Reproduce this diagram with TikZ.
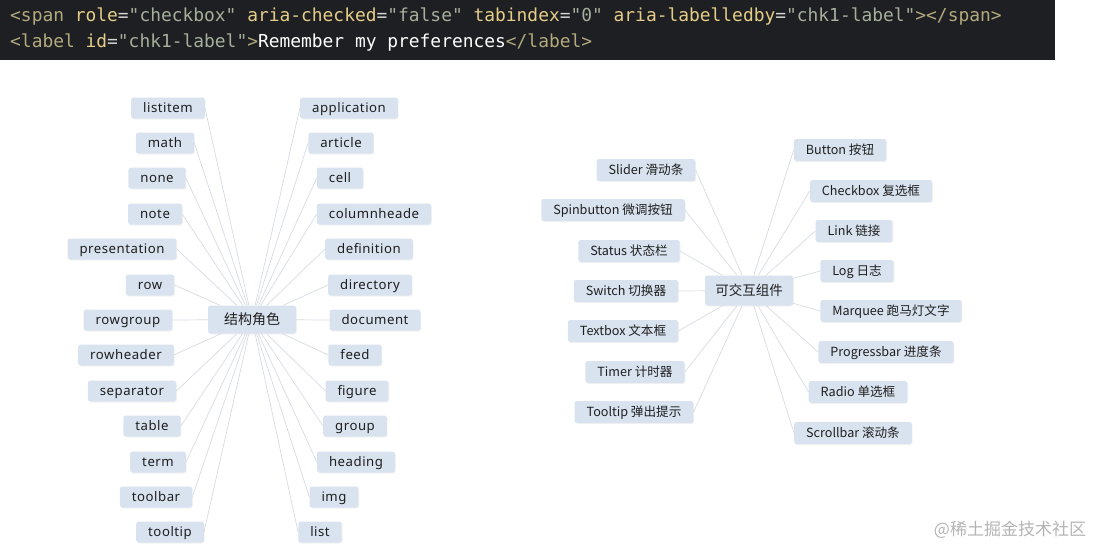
\documentclass[tikz,border=0pt]{standalone}
\usepackage{fontspec}
\setmainfont{Noto Sans}
\newfontfamily\codefont{DejaVu Sans Mono}
\newfontfamily\mapfont[LetterSpace=4]{Noto Sans}
\newfontfamily\cjk{Noto Sans CJK SC}
\usetikzlibrary{shadows}
\definecolor{codebg}{RGB}{30,31,35}
\definecolor{tagc}{RGB}{178,170,125}
\definecolor{attrc}{RGB}{229,205,135}
\definecolor{strc}{RGB}{165,175,155}
\definecolor{eqc}{RGB}{214,214,214}
\definecolor{boxc}{RGB}{216,227,239}
\definecolor{linec}{RGB}{214,219,226}
\definecolor{wmc}{RGB}{180,180,180}
\begin{document}
\begin{tikzpicture}[x=1pt,y=-1pt,
  code/.style={anchor=west,inner sep=0pt,font=\codefont\fontsize{17.9}{20}\selectfont},
  box/.style={fill=boxc,rounded corners=2.5pt,inner ysep=0pt,text=black!88,
    drop shadow={opacity=0.10,shadow xshift=0.8pt,shadow yshift=-1pt}},
  leaf/.style={box,inner xsep=12pt,minimum height=21pt,text height=10.5pt,text depth=1.5pt,
    font=\mapfont\fontsize{13.2}{15}\selectfont},
  rleaf/.style={box,inner xsep=12pt,minimum height=22pt,text height=11pt,text depth=1.5pt,
    font=\cjk\fontsize{12.6}{15}\selectfont},
  hub/.style={box,inner xsep=0pt,minimum width=88pt,text height=12pt,text depth=2pt,
    font=\cjk\fontsize{14}{16}\selectfont},
  conn/.style={draw=linec,line width=0.7pt}]
\useasboundingbox (0,0) rectangle (1108,558);
% code bar
\fill[codebg] (0,0) rectangle (1055,60);
\node[code] (c1) at (10,16.5) {\textcolor{tagc}{<span} \textcolor{attrc}{role}\textcolor{eqc}{=}\textcolor{strc}{"checkbox"} \textcolor{attrc}{aria-checked}\textcolor{eqc}{=}\textcolor{strc}{"false"} \textcolor{attrc}{tabindex}\textcolor{eqc}{=}\textcolor{strc}{"0"} \textcolor{attrc}{aria-labelledby}\textcolor{eqc}{=}\textcolor{strc}{"chk1-label"}\textcolor{tagc}{></span>}};
\node[code] (c2) at (10,42.5) {\textcolor{tagc}{<label} \textcolor{attrc}{id}\textcolor{eqc}{=}\textcolor{strc}{"chk1-label"}\textcolor{tagc}{>}\textcolor{white}{Remember my preferences}\textcolor{tagc}{</label>}};
% left map
\node[hub,minimum height=28pt] (s) at (252,319.5) {结构角色};
\node[leaf] (listitem) at (168,108) {listitem};
\node[leaf] (math) at (165,143) {math};
\node[leaf] (none) at (157,178) {none};
\node[leaf] (note) at (155,214) {note};
\node[leaf] (presentation) at (122,249) {presentation};
\node[leaf] (row) at (150,285) {row};
\node[leaf] (rowgroup) at (128,320) {rowgroup};
\node[leaf] (rowheader) at (126,355) {rowheader};
\node[leaf] (separator) at (132,391) {separator};
\node[leaf] (table) at (152,426) {table};
\node[leaf] (term) at (158,462) {term};
\node[leaf] (toolbar) at (156,497) {toolbar};
\node[leaf] (tooltip) at (170,532) {tooltip};
\node[leaf] (application) at (349,108) {application};
\node[leaf] (article) at (341,143) {article};
\node[leaf] (cell) at (340,178) {cell};
\node[leaf] (columnheade) at (374,214) {columnheade};
\node[leaf] (definition) at (369,249) {definition};
\node[leaf] (directory) at (370,285) {directory};
\node[leaf] (document) at (375,320) {document};
\node[leaf] (feed) at (355,355) {feed};
\node[leaf] (figure) at (357,391) {figure};
\node[leaf] (group) at (355,426) {group};
\node[leaf] (heading) at (356,462) {heading};
\node[leaf] (img) at (334,497) {img};
\node[leaf] (list) at (320,532) {list};
\foreach \n in {listitem,math,none,note,presentation,row,rowgroup,rowheader,separator,table,term,toolbar,tooltip}
  \draw[conn] (s) -- (\n.east);
\foreach \n in {application,article,cell,columnheade,definition,directory,document,feed,figure,group,heading,img,list}
  \draw[conn] (s) -- (\n.west);
% right map
\node[hub,minimum height=30pt,font=\cjk\fontsize{13.5}{16}\selectfont] (k) at (749,290.5) {可交互组件};
\node[rleaf] (slider) at (646,170) {Slider 滑动条};
\node[rleaf] (spin) at (613,210) {Spinbutton 微调按钮};
\node[rleaf] (status) at (629,251) {Status 状态栏};
\node[rleaf] (switch) at (626,291) {Switch 切换器};
\node[rleaf] (textbox) at (623,331) {Textbox 文本框};
\node[rleaf] (timer) at (635,372) {Timer 计时器};
\node[rleaf] (rtip) at (634,412) {Tooltip 弹出提示};
\node[rleaf] (button) at (840,150) {Button 按钮};
\node[rleaf] (checkbox) at (871,191) {Checkbox 复选框};
\node[rleaf] (link) at (854,231) {Link 链接};
\node[rleaf] (log) at (857,271) {Log 日志};
\node[rleaf] (marquee) at (891,311) {Marquee 跑马灯文字};
\node[rleaf] (progress) at (886,352) {Progressbar 进度条};
\node[rleaf] (radio) at (858,392) {Radio 单选框};
\node[rleaf] (scroll) at (853,433) {Scrollbar 滚动条};
\foreach \n in {slider,spin,status,switch,textbox,timer,rtip}
  \draw[conn] (k) -- (\n.east);
\foreach \n in {button,checkbox,link,log,marquee,progress,radio,scroll}
  \draw[conn] (k) -- (\n.west);
% watermark
\node[text=wmc,font=\cjk\fontsize{17}{19}\selectfont,inner sep=0pt] (wm) at (1010,530) {@稀土掘金技术社区};
\end{tikzpicture}
\end{document}
